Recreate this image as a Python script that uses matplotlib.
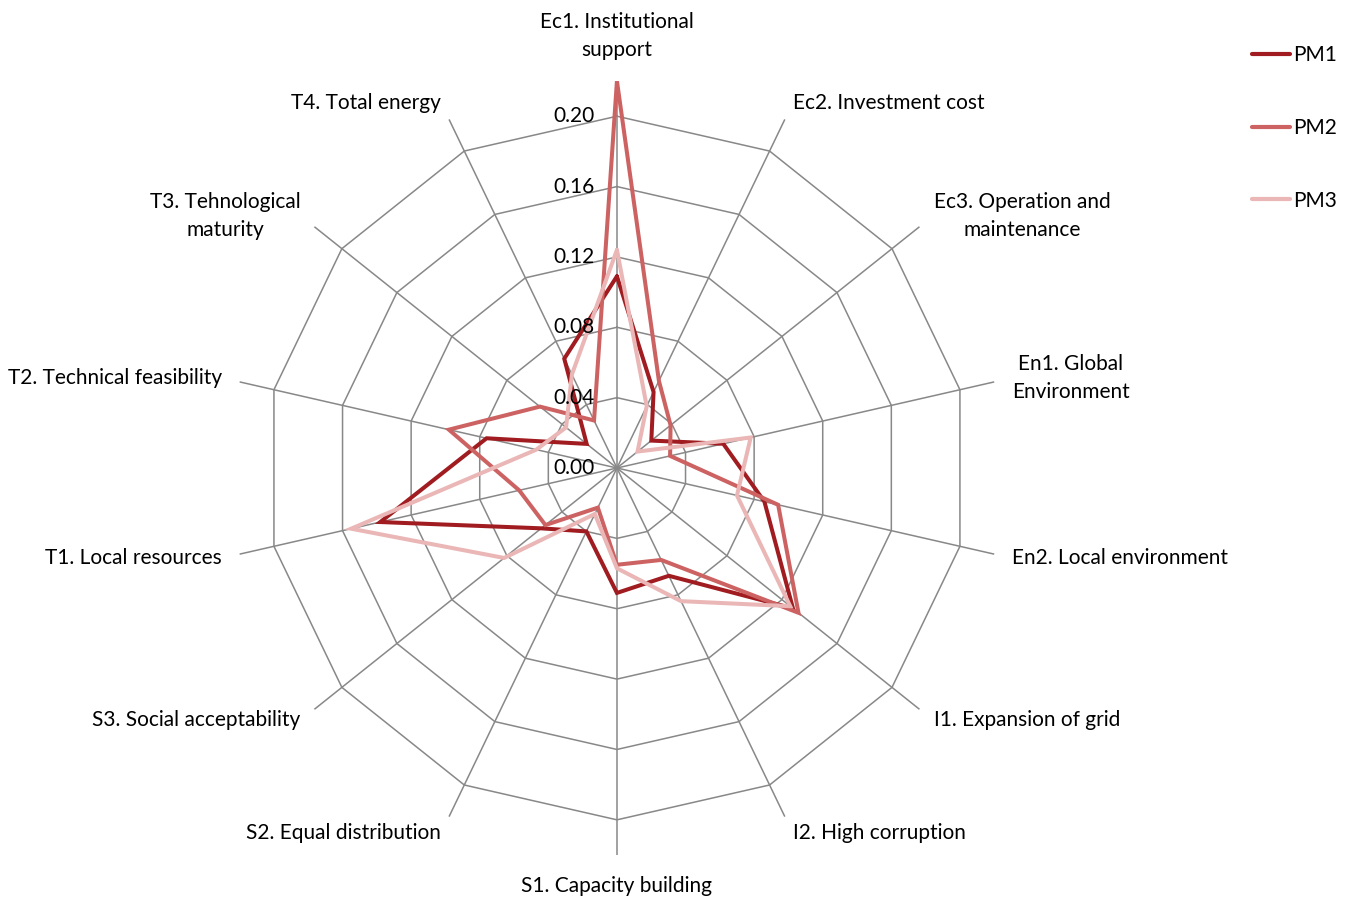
import numpy as np
import matplotlib
matplotlib.use("Agg")
import matplotlib.pyplot as plt
from matplotlib.transforms import offset_copy

# Criteria (clockwise from the top) and the weights of the three models
categories = [
    "Ec1. Institutional\nsupport",
    "Ec2. Investment cost",
    "Ec3. Operation and\nmaintenance",
    "En1. Global\nEnvironment",
    "En2. Local environment",
    "I1. Expansion of grid",
    "I2. High corruption",
    "S1. Capacity building",
    "S2. Equal distribution",
    "S3. Social acceptability",
    "T1. Local resources",
    "T2. Technical feasibility",
    "T3. Tehnological\nmaturity",
    "T4. Total energy",
]
pm1 = [0.109, 0.048, 0.025, 0.062, 0.086, 0.128, 0.068, 0.071, 0.040, 0.055, 0.138, 0.076, 0.022, 0.069]
pm2 = [0.220, 0.055, 0.039, 0.031, 0.094, 0.132, 0.058, 0.055, 0.025, 0.052, 0.057, 0.098, 0.056, 0.030]
pm3 = [0.124, 0.039, 0.015, 0.078, 0.070, 0.126, 0.084, 0.057, 0.029, 0.082, 0.155, 0.047, 0.037, 0.059]
series_names = ["PM1", "PM2", "PM3"]
series_colors = ["#A01C20", "#CD6262", "#EAB6B6"]
r_ticks = [0.00, 0.04, 0.08, 0.12, 0.16, 0.20]
r_max = 0.22

plt.rcParams["font.family"] = ["Lato", "DejaVu Sans"]
grid_color = "#888888"
font_size = 15

fig = plt.figure(figsize=(13.51, 8.99), dpi=100)
ax = fig.add_axes([0.1702, 0.0489, 0.5729, 0.8610], projection="polar")
ax.set_theta_zero_location("N")
ax.set_theta_direction(-1)
ax.set_ylim(0, r_max)
ax.grid(False)
ax.spines["polar"].set_visible(False)
ax.set_xticks([])
ax.set_yticks([])
ax.patch.set_alpha(0)

n = len(categories)
theta = np.arange(n) * 2 * np.pi / n
theta_closed = np.append(theta, theta[0])

# Polygonal rings and spokes
for r in r_ticks[1:]:
    ax.plot(theta_closed, [r] * (n + 1), color=grid_color, lw=1.1, zorder=1)
for t in theta:
    ax.plot([t, t], [0, r_max], color=grid_color, lw=1.1, zorder=1)

# Radial value labels to the left of the top spoke, drawn above the series
tick_trans = offset_copy(ax.transData, fig=fig, x=-22, y=0, units="dots")
for r in r_ticks:
    ax.text(0, r, f"{r:.2f}", transform=tick_trans, ha="right", va="center",
            fontsize=font_size, color="black", zorder=10)

# Category labels around the outside
r_label = r_max + 0.0102
for t, label in zip(theta, categories):
    s = np.sin(t)
    c = np.cos(t)
    if s > 0.1:
        ha = "left"
    elif s < -0.1:
        ha = "right"
    else:
        ha = "center"
    rr = r_label
    if abs(s) <= 0.1:
        va = "bottom" if c > 0 else "top"
        rr = r_label + 0.002
    else:
        va = "center"
    ax.text(t, rr, label, ha=ha, va=va, multialignment="center",
            fontsize=font_size, color="black", linespacing=1.5)

# Model series
for i, (name, vals, col) in enumerate(zip(series_names, [pm1, pm2, pm3], series_colors)):
    v = np.append(vals, vals[0])
    ax.plot(theta_closed, v, color=col, lw=2.9, label=name, zorder=3 + i,
            solid_joinstyle="miter", solid_capstyle="round")

leg = ax.legend(loc="upper left", bbox_to_anchor=(0.9267, 0.9500),
                bbox_transform=fig.transFigure, frameon=False, fontsize=font_size,
                handlelength=1.83, handletextpad=0.15, labelspacing=2.54,
                borderpad=0, borderaxespad=0)
for h in leg.legend_handles:
    h.set_linewidth(3.0)
    h.set_solid_capstyle("round")

fig.savefig("out.png", dpi=100, facecolor="white")
